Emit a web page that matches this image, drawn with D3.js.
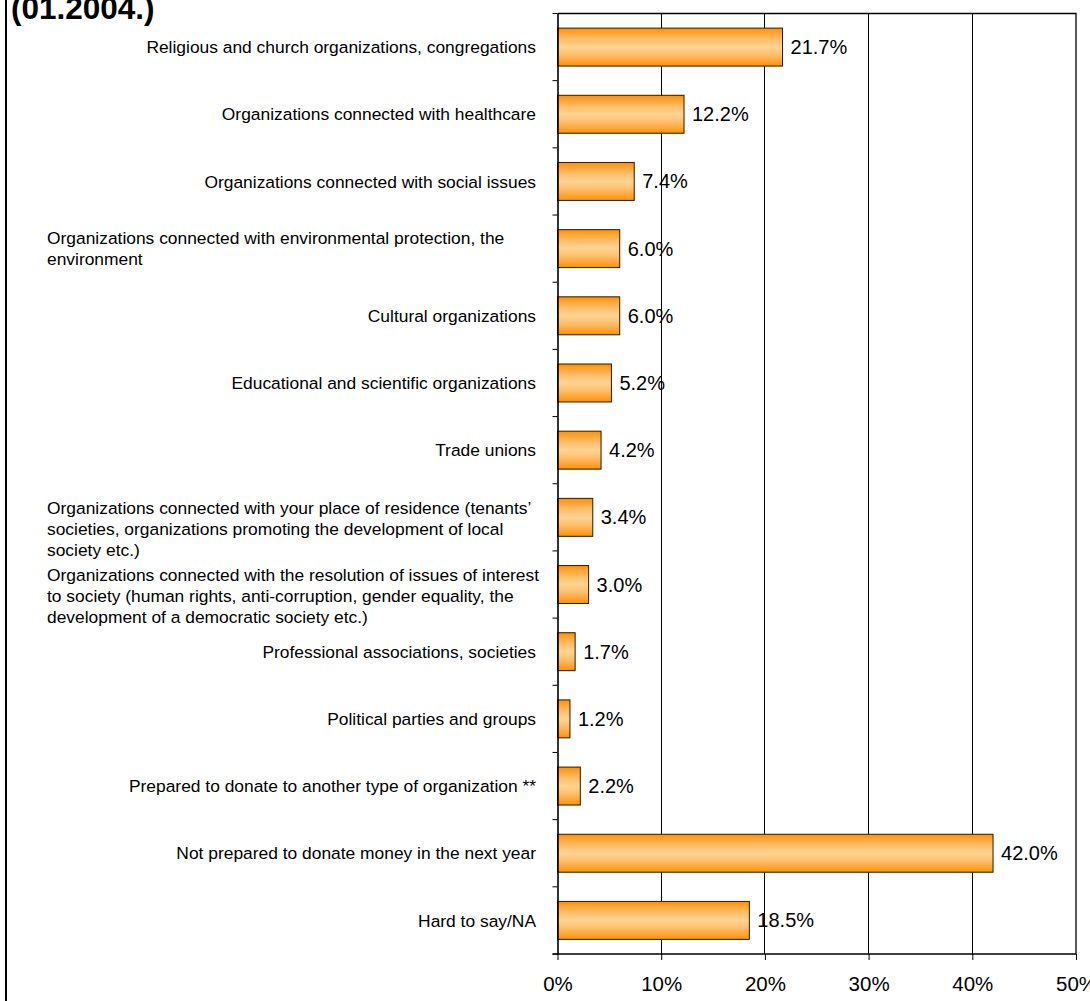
<!DOCTYPE html>
<html>
<head>
<meta charset="utf-8">
<script src="https://cdn.jsdelivr.net/npm/d3@7"></script>
<style>
  html, body { margin: 0; padding: 0; background: #fff; }
  svg { display: block; font-family: "Liberation Sans", Arial, sans-serif; }
</style>
</head>
<body>
<svg id="chart" width="1090" height="1001"></svg>
<script>
// Types of organisations people are prepared to donate to (share of respondents)
const categories = [
  "Religious and church organizations, congregations",
  "Organizations connected with healthcare",
  "Organizations connected with social issues",
  "Organizations connected with environmental protection, the\nenvironment",
  "Cultural organizations",
  "Educational and scientific organizations",
  "Trade unions",
  "Organizations connected with your place of residence (tenants\u2019\nsocieties, organizations promoting the development of local\nsociety etc.)",
  "Organizations connected with the resolution of issues of interest\nto society (human rights, anti-corruption, gender equality, the\ndevelopment of a democratic society etc.)",
  "Professional associations, societies",
  "Political parties and groups",
  "Prepared to donate to another type of organization **",
  "Not prepared to donate money in the next year",
  "Hard to say/NA"
];
const values = [21.7, 12.2, 7.4, 6.0, 6.0, 5.2, 4.2, 3.4, 3.0, 1.7, 1.2, 2.2, 42.0, 18.5];
const xTicks = [0, 10, 20, 30, 40, 50];
const title = "(01.2004.)";

const svg = d3.select("#chart");

// plot frame
const plot = { left: 557.5, right: 1076, top: 13.5, bottom: 954 };

const x = d3.scaleLinear().domain([0, 50]).range([plot.left, plot.right]);
const y = d3.scaleBand().domain(d3.range(categories.length))
  .range([plot.top, plot.bottom]).paddingInner(0.435).paddingOuter(0.2175);
const band = d3.scaleBand().domain(d3.range(categories.length))
  .range([plot.top, plot.bottom]);

// bar gradient
const defs = svg.append("defs");
const grad = defs.append("linearGradient").attr("id", "barGrad")
  .attr("x1", 0).attr("y1", 0).attr("x2", 0).attr("y2", 1);
[[0, "#ff9000"], [0.12, "#ffa330"], [0.3, "#ffbe6c"], [0.5, "#ffd493"],
 [0.7, "#ffbe6c"], [0.88, "#ffa330"], [1, "#ff9000"]]
  .forEach(([o, c]) => grad.append("stop").attr("offset", o).attr("stop-color", c));

// outer chart border (left edge)
svg.append("line").attr("x1", 6).attr("x2", 6).attr("y1", 0).attr("y2", 1001)
  .attr("stroke", "#000").attr("stroke-width", 2);

// title
svg.append("text").attr("x", 11).attr("y", 18.5)
  .attr("font-size", 31.5).attr("font-weight", "bold").attr("fill", "#000")
  .text(title);

// vertical gridlines
svg.append("g").selectAll("line").data(xTicks.filter(d => d > 0 && d < 50)).join("line")
  .attr("x1", d => x(d)).attr("x2", d => x(d))
  .attr("y1", plot.top).attr("y2", plot.bottom)
  .attr("stroke", "#000").attr("stroke-width", 1).attr("shape-rendering", "crispEdges");

// plot box top & right
svg.append("path")
  .attr("d", `M${plot.left},${plot.top}H${plot.right}V${plot.bottom}`)
  .attr("fill", "none").attr("stroke", "#000").attr("stroke-width", 1.3);

// bars
svg.append("g").selectAll("rect").data(values).join("rect")
  .attr("x", x(0))
  .attr("y", (d, i) => y(i))
  .attr("width", d => x(d) - x(0))
  .attr("height", y.bandwidth())
  .attr("fill", "url(#barGrad)")
  .attr("stroke", "#2a1a00").attr("stroke-width", 1);

// value labels
svg.append("g").selectAll("text").data(values).join("text")
  .attr("x", d => x(d) + 8)
  .attr("y", (d, i) => y(i) + y.bandwidth() / 2)
  .attr("dy", "0.35em")
  .attr("font-size", 20).attr("fill", "#000")
  .text(d => d.toFixed(1) + "%");

// category axis (left)
const yAxis = d3.axisLeft(band).tickSize(0).tickFormat("");
const gy = svg.append("g").attr("transform", `translate(${plot.left},0)`).call(yAxis);
gy.select(".domain").attr("stroke", "#000").attr("stroke-width", 1.6);
// tick marks between categories
svg.append("g").selectAll("line").data(d3.range(categories.length + 1)).join("line")
  .attr("x1", plot.left - 5).attr("x2", plot.left)
  .attr("y1", i => plot.top + i * band.step())
  .attr("y2", i => plot.top + i * band.step())
  .attr("stroke", "#000").attr("stroke-width", 1);

// category labels: single lines right-aligned, wrapped blocks left-aligned
const labelFont = 17.4;
const labelRight = 536;
const blockLeft = 47;
const lineH = 21;
const labels = svg.append("g").attr("font-size", labelFont).attr("fill", "#000");
categories.forEach((c, i) => {
  const lines = c.split("\n");
  const cy = band(i) + band.bandwidth() / 2;
  if (lines.length === 1) {
    labels.append("text").attr("x", labelRight).attr("y", cy).attr("dy", "0.35em")
      .attr("text-anchor", "end").text(c);
  } else {
    const top = lines.length === 2 ? cy - lineH / 2 : cy - lineH * 0.45;
    lines.forEach((l, k) => {
      labels.append("text").attr("x", blockLeft).attr("y", top + k * lineH).attr("dy", "0.35em")
        .text(l);
    });
  }
});

// value axis (bottom)
const xAxis = d3.axisBottom(x).tickValues(xTicks).tickSize(6).tickPadding(16)
  .tickFormat(d => d + "%");
const gx = svg.append("g").attr("transform", `translate(0,${plot.bottom})`).call(xAxis);
gx.select(".domain").attr("d", `M${plot.left - 5},0H${plot.right}`)
  .attr("stroke", "#000").attr("stroke-width", 1.6);
gx.selectAll(".tick line").attr("stroke", "#000");
gx.selectAll(".tick text").attr("font-size", 20.5).attr("fill", "#000")
  .attr("font-family", "'Liberation Sans', Arial, sans-serif");
</script>
</body>
</html>
